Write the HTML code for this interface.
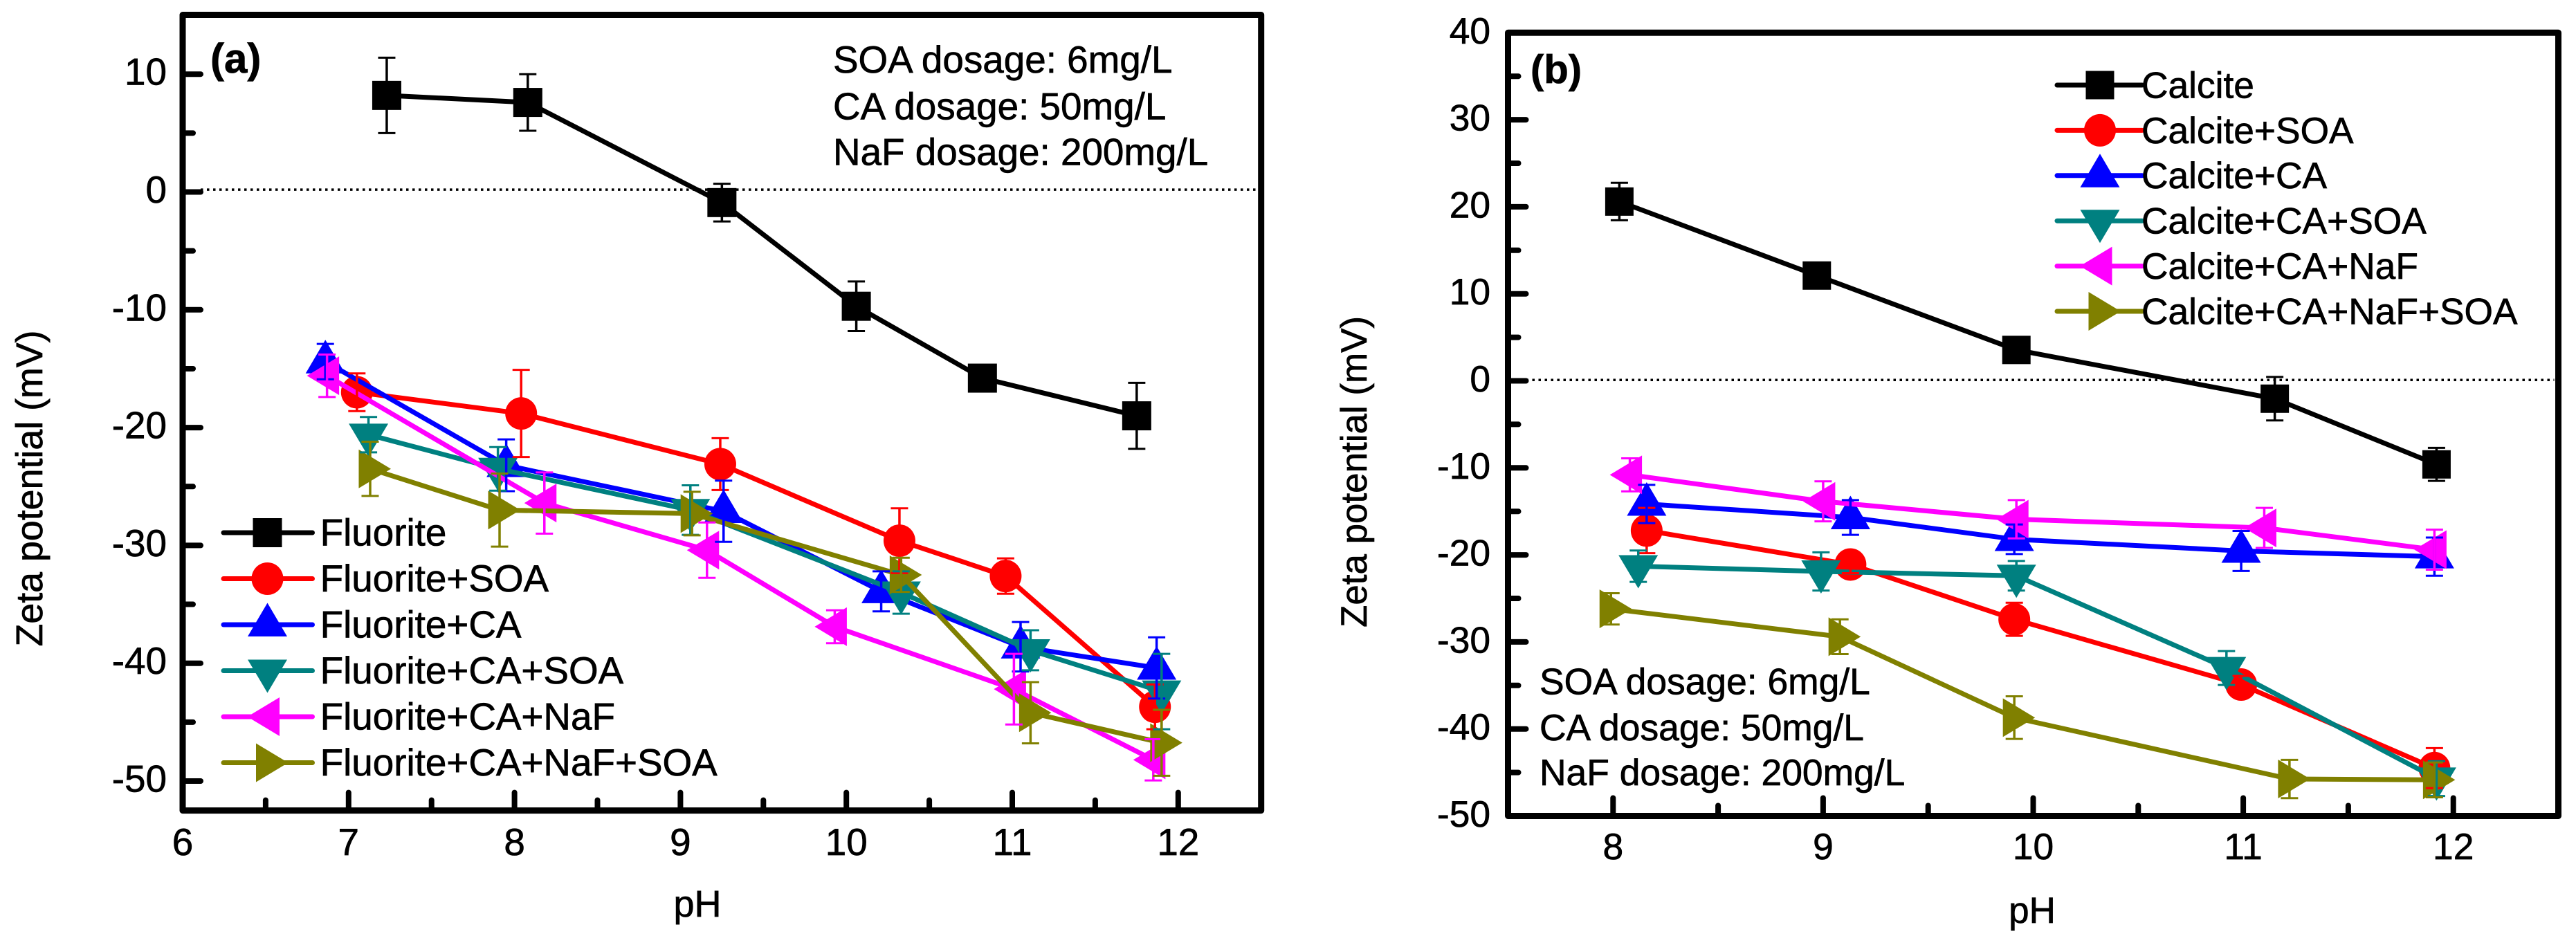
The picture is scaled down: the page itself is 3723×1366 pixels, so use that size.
<!DOCTYPE html>
<html lang="en">
<head>
<meta charset="utf-8">
<title>Zeta potential vs pH</title>
<style>
html,body{margin:0;padding:0;background:#fff;}
svg{display:block;}
text{font-family:"Liberation Sans",Arial,sans-serif;fill:#000;stroke:#000;stroke-width:0.7;text-rendering:geometricPrecision;}
</style>
</head>
<body>
<svg id="figure" xmlns="http://www.w3.org/2000/svg" width="3723" height="1366" viewBox="0 0 3723 1366">
  <rect x="0" y="0" width="3723" height="1366" fill="#fff"/>
  <g id="panel-a">
    <text transform="translate(61,706) rotate(-90)" text-anchor="middle" font-size="54" textLength="457" lengthAdjust="spacingAndGlyphs">Zeta potential (mV)</text>
    <text x="1008" y="1325" text-anchor="middle" font-size="54">pH</text>
    <text x="304" y="105" font-size="60" font-weight="bold">(a)</text>
    <text x="1204" y="105" font-size="54.8">SOA dosage: 6mg/L</text>
    <text x="1204" y="172.5" font-size="54.8">CA dosage: 50mg/L</text>
    <text x="1204" y="238.5" font-size="54.8">NaF dosage: 200mg/L</text>
  </g>
  <g id="panel-b">
    <text transform="translate(1975,682) rotate(-90)" text-anchor="middle" font-size="53" textLength="450" lengthAdjust="spacingAndGlyphs">Zeta potential (mV)</text>
    <text x="2937" y="1334" text-anchor="middle" font-size="53">pH</text>
    <text x="2212" y="120" font-size="58" font-weight="bold">(b)</text>
    <text x="2225" y="1003.5" font-size="53.4">SOA dosage: 6mg/L</text>
    <text x="2225" y="1070" font-size="53.4">CA dosage: 50mg/L</text>
    <text x="2225" y="1135" font-size="53.4">NaF dosage: 200mg/L</text>
  </g>
</svg>
<script>
// ---------- Panel (a) data ----------
const aXTicks = [6, 7, 8, 9, 10, 11, 12];
const aXMinorTicks = [6.5, 7.5, 8.5, 9.5, 10.5, 11.5];
const aYTicks = [10, 0, -10, -20, -30, -40, -50];
const aYMinorTicks = [5, -5, -15, -25, -35, -45];
const aReferenceValue = 0.2;

const aFluoritePH = [7.23, 8.08, 9.25, 10.06, 10.82, 11.75];
const aFluoriteZeta = [8.2, 7.6, -0.9, -9.7, -15.8, -19.0];
const aFluoriteErr = [3.2, 2.4, 1.6, 2.1, 0.8, 2.8];

const aSoaPH = [7.05, 8.04, 9.24, 10.32, 10.96, 11.86];
const aSoaZeta = [-17.0, -18.8, -23.1, -29.6, -32.6, -43.7];
const aSoaErr = [1.6, 3.7, 2.2, 2.75, 1.5, 1.9];

const aCaPH = [6.86, 7.95, 9.26, 10.21, 11.05, 11.87];
const aCaZeta = [-14.4, -23.2, -27.1, -33.9, -38.6, -40.4];
const aCaErr = [1.5, 2.2, 2.6, 1.7, 2.1, 2.6];

const aCaSoaPH = [7.12, 7.90, 9.06, 10.33, 11.11, 11.90];
const aCaSoaZeta = [-20.6, -23.5, -27.0, -34.0, -38.9, -42.4];
const aCaSoaErr = [1.5, 1.85, 2.1, 1.8, 1.7, 3.2];

const aCaNafPH = [6.87, 8.18, 9.16, 9.93, 11.01, 11.85];
const aCaNafZeta = [-15.6, -26.4, -30.4, -36.9, -42.2, -48.2];
const aCaNafErr = [1.8, 2.6, 2.35, 1.4, 3.0, 1.75];

const aCaNafSoaPH = [7.13, 7.91, 9.07, 10.33, 11.11, 11.90];
const aCaNafSoaZeta = [-23.5, -27.0, -27.3, -32.5, -44.2, -46.75];
const aCaNafSoaErr = [2.3, 3.1, 1.85, 1.45, 2.6, 2.8];

// ---------- Panel (b) data ----------
const bXTicks = [8, 9, 10, 11, 12];
const bXMinorTicks = [8.5, 9.5, 10.5, 11.5];
const bYTicks = [40, 30, 20, 10, 0, -10, -20, -30, -40, -50];
const bYMinorTicks = [35, 25, 15, 5, -5, -15, -25, -35, -45];
const bReferenceValue = 0.1;

const bCalcitePH = [8.03, 8.97, 9.92, 11.15, 11.92];
const bCalciteZeta = [20.6, 12.1, 3.55, -2.05, -9.6];
const bCalciteErr = [2.15, 1.0, 1.0, 2.5, 1.9];

const bSoaPH = [8.16, 9.13, 9.91, 10.99, 11.91];
const bSoaZeta = [-17.2, -21.1, -27.4, -34.9, -44.5];
const bSoaErr = [2.6, 1.0, 1.9, 1.0, 2.3];

const bCaPH = [8.16, 9.13, 9.91, 10.99, 11.91];
const bCaZeta = [-14.15, -15.7, -18.2, -19.55, -20.2];
const bCaErr = [2.2, 2.0, 1.7, 2.3, 2.2];

const bCaSoaPH = [8.12, 8.99, 9.92, 10.92, 11.92];
const bCaSoaZeta = [-21.3, -21.9, -22.4, -33.0, -45.7];
const bCaSoaErr = [1.8, 2.2, 1.7, 1.95, 2.0];

const bCaNafPH = [8.08, 9.0, 9.92, 11.1, 11.91];
const bCaNafZeta = [-10.8, -13.85, -15.9, -16.9, -19.4];
const bCaNafErr = [1.9, 2.3, 2.2, 2.3, 2.3];

const bCaNafSoaPH = [7.99, 9.08, 9.91, 11.22, 11.91];
const bCaNafSoaZeta = [-26.2, -29.4, -38.7, -45.75, -45.85];
const bCaNafSoaErr = [1.8, 2.0, 2.45, 2.2, 2.0];

// ---------- Series labels ----------
const aLabels = ['Fluorite', 'Fluorite+SOA', 'Fluorite+CA', 'Fluorite+CA+SOA', 'Fluorite+CA+NaF', 'Fluorite+CA+NaF+SOA'];
const bLabels = ['Calcite', 'Calcite+SOA', 'Calcite+CA', 'Calcite+CA+SOA', 'Calcite+CA+NaF', 'Calcite+CA+NaF+SOA'];

// ---------- Series styling ----------
const seriesColors = ['#000000', '#ff0000', '#0000ff', '#008080', '#ff00ff', '#808000'];
const seriesMarkers = ['square', 'circle', 'up', 'down', 'left', 'right'];

const SVG_NS = 'http://www.w3.org/2000/svg';

function make(tag, attrs, parent) {
  const node = document.createElementNS(SVG_NS, tag);
  for (const key in attrs) node.setAttribute(key, attrs[key]);
  parent.appendChild(node);
  return node;
}

function kebab(label) {
  return label.toLowerCase().replace(/\+/g, '-');
}

function drawMarker(kind, cx, cy, color, squareSize, parent, name) {
  let el;
  if (kind === 'square') {
    el = make('rect', {x: cx - squareSize / 2, y: cy - squareSize / 2, width: squareSize, height: squareSize, fill: color}, parent);
  } else if (kind === 'circle') {
    el = make('ellipse', {cx: cx, cy: cy, rx: 23, ry: 23.5, fill: color}, parent);
  } else {
    let pts;
    if (kind === 'up') pts = [[0, -31.5], [-28.5, 17], [28.5, 17]];
    if (kind === 'down') pts = [[0, 32], [-28.5, -16], [28.5, -16]];
    if (kind === 'left') pts = [[-29, 0], [17.5, -28], [17.5, 28]];
    if (kind === 'right') pts = [[30, 0], [-16.5, -28], [-16.5, 28]];
    const str = pts.map(function (p) { return (cx + p[0]) + ',' + (cy + p[1]); }).join(' ');
    el = make('polygon', {points: str, fill: color}, parent);
  }
  
  
  return el;
}

function drawPanel(cfg) {
  const root = document.getElementById(cfg.id);
  const prefix = cfg.id;
  const xA = function (v) { return cfg.x0 + (v - cfg.xMin) * cfg.xScale; };
  const yA = function (v) { return cfg.y0 - v * cfg.yScale; };
  const left = xA(cfg.xMin), right = xA(cfg.xMax);
  const bottom = yA(cfg.yMin), top = yA(cfg.yMax);

  // reference line
  const ref = make('line', {x1: left + 26, x2: right - 6, y1: yA(cfg.refValue), y2: yA(cfg.refValue), stroke: '#000', 'stroke-width': 3.5, 'stroke-dasharray': '3.5 5.5'}, root);
  
  

  // lines and markers, series by series
  cfg.series.forEach(function (s, i) {
    const g = make('g', {}, root);
    
    
    const pts = s.x.map(function (v, k) { return xA(v) + ',' + yA(s.y[k]); }).join(' ');
    const line = make('polyline', {points: pts, fill: 'none', stroke: seriesColors[i], 'stroke-width': 7, 'stroke-linejoin': 'round'}, g);
    
    
    s.x.forEach(function (v, k) {
      drawMarker(seriesMarkers[i], xA(v), yA(s.y[k]), seriesColors[i], cfg.square, g, 'point-' + kebab(s.label) + '-' + (k + 1));
    });
  });

  // error bars on top of all markers
  cfg.series.forEach(function (s, i) {
    const g = make('g', {stroke: seriesColors[i], fill: 'none'}, root);
    
    
    s.x.forEach(function (v, k) {
      const px = xA(v), hi = yA(s.y[k] + s.err[k]), lo = yA(s.y[k] - s.err[k]);
      const stem = make('line', {x1: px, x2: px, y1: hi, y2: lo, 'stroke-width': 3.5}, g);
      
      
      const capHi = make('line', {x1: px - 12.5, x2: px + 12.5, y1: hi, y2: hi, 'stroke-width': 3}, g);
      
      
      const capLo = make('line', {x1: px - 12.5, x2: px + 12.5, y1: lo, y2: lo, 'stroke-width': 3}, g);
      
      
    });
  });

  // axis frame
  const frame = make('rect', {x: left, y: top, width: right - left, height: bottom - top, fill: 'none', stroke: '#000', 'stroke-width': 9, 'stroke-linejoin': 'round'}, root);
  
  

  // x ticks
  cfg.xTicks.forEach(function (v) {
    const t = make('line', {x1: xA(v), x2: xA(v), y1: bottom, y2: bottom - 26, stroke: '#000', 'stroke-width': 8, 'stroke-linecap': 'round'}, root);
    
    
    const lab = make('text', {x: xA(v), y: cfg.xLabelY, 'text-anchor': 'middle', 'font-size': cfg.font}, root);
    lab.textContent = String(v);
    
    
  });
  cfg.xMinor.forEach(function (v) {
    const t = make('line', {x1: xA(v), x2: xA(v), y1: bottom, y2: bottom - 15, stroke: '#000', 'stroke-width': 8, 'stroke-linecap': 'round'}, root);
    
    
  });

  // y ticks
  cfg.yTicks.forEach(function (v) {
    const t = make('line', {x1: left, x2: left + 26, y1: yA(v), y2: yA(v), stroke: '#000', 'stroke-width': 8, 'stroke-linecap': 'round'}, root);
    
    
    const lab = make('text', {x: cfg.yLabelX, y: yA(v) + 15.5, 'text-anchor': 'end', 'font-size': cfg.font}, root);
    lab.textContent = String(v);
    
    
  });
  cfg.yMinor.forEach(function (v) {
    const t = make('line', {x1: left, x2: left + 15, y1: yA(v), y2: yA(v), stroke: '#000', 'stroke-width': 8, 'stroke-linecap': 'round'}, root);
    
    
  });

  // legend
  const lg = make('g', {}, root);
  
  
  cfg.series.forEach(function (s, i) {
    const rowY = cfg.legend.y + i * cfg.legend.step;
    const e = make('g', {}, lg);
    
    
    const l = make('line', {x1: cfg.legend.x1, x2: cfg.legend.x2, y1: rowY, y2: rowY, stroke: seriesColors[i], 'stroke-width': 7, 'stroke-linecap': 'round'}, e);
    
    
    drawMarker(seriesMarkers[i], cfg.legend.mx, rowY, seriesColors[i], cfg.square, e, 'legend-marker');
    const txt = make('text', {x: cfg.legend.tx, y: rowY + 18.4, 'font-size': cfg.font}, e);
    txt.textContent = s.label;
    
    
  });
}

drawPanel({
  id: 'panel-a', x0: 264, xMin: 6, xMax: 12.5, xScale: 239.8, y0: 277.5, yScale: 17.03, yMin: -52.5, yMax: 15.03,
  font: 54.8, square: 42, xLabelY: 1236, yLabelX: 241, refValue: aReferenceValue,
  xTicks: aXTicks, xMinor: aXMinorTicks, yTicks: aYTicks, yMinor: aYMinorTicks,
  legend: {y: 770, step: 66.5, x1: 323, x2: 451.5, mx: 386.5, tx: 462.6},
  series: [
    {label: aLabels[0], x: aFluoritePH, y: aFluoriteZeta, err: aFluoriteErr},
    {label: aLabels[1], x: aSoaPH, y: aSoaZeta, err: aSoaErr},
    {label: aLabels[2], x: aCaPH, y: aCaZeta, err: aCaErr},
    {label: aLabels[3], x: aCaSoaPH, y: aCaSoaZeta, err: aCaSoaErr},
    {label: aLabels[4], x: aCaNafPH, y: aCaNafZeta, err: aCaNafErr},
    {label: aLabels[5], x: aCaNafSoaPH, y: aCaNafSoaZeta, err: aCaNafSoaErr}
  ]
});

drawPanel({
  id: 'panel-b', x0: 2179.5, xMin: 7.5, xMax: 12.5, xScale: 303.6, y0: 550.5, yScale: 12.58, yMin: -50, yMax: 40,
  font: 53.3, square: 41, xLabelY: 1242, yLabelX: 2154, refValue: bReferenceValue,
  xTicks: bXTicks, xMinor: bXMinorTicks, yTicks: bYTicks, yMinor: bYMinorTicks,
  legend: {y: 123, step: 65.4, x1: 2973, x2: 3096, mx: 3035, tx: 3095},
  series: [
    {label: bLabels[0], x: bCalcitePH, y: bCalciteZeta, err: bCalciteErr},
    {label: bLabels[1], x: bSoaPH, y: bSoaZeta, err: bSoaErr},
    {label: bLabels[2], x: bCaPH, y: bCaZeta, err: bCaErr},
    {label: bLabels[3], x: bCaSoaPH, y: bCaSoaZeta, err: bCaSoaErr},
    {label: bLabels[4], x: bCaNafPH, y: bCaNafZeta, err: bCaNafErr},
    {label: bLabels[5], x: bCaNafSoaPH, y: bCaNafSoaZeta, err: bCaNafSoaErr}
  ]
});
</script>
</body>
</html>
